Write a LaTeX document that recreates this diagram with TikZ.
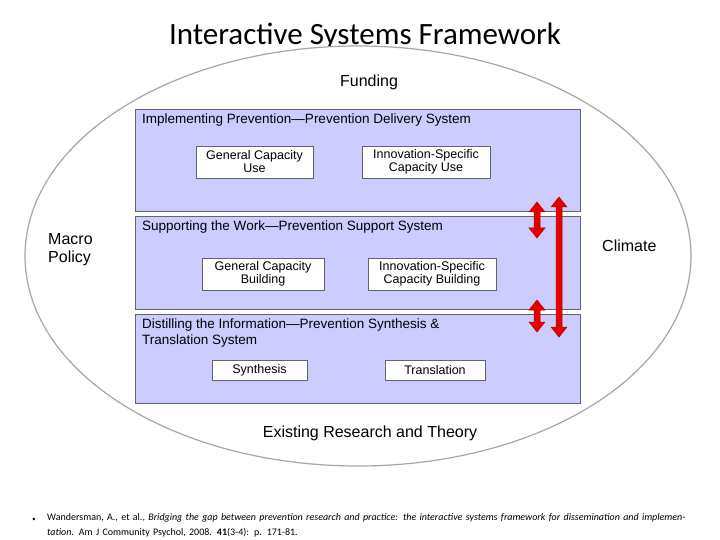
\documentclass[tikz,border=0pt]{standalone}
\usepackage{fontspec}
\usetikzlibrary{calc}
\setmainfont{Liberation Sans}
\newfontfamily\carl{Carlito}
\definecolor{panel}{RGB}{204,204,255}
\definecolor{edge}{RGB}{100,100,110}
\begin{document}
\begin{tikzpicture}[x=1pt,y=-1pt,
  panel/.style={draw=edge,fill=panel,line width=0.8pt},
  box/.style={draw=edge,fill=white,line width=0.8pt,align=center,font=\fontsize{12.5}{13}\selectfont,inner sep=0pt},
  lbl/.style={font=\fontsize{13.5}{16}\selectfont,anchor=west,inner sep=0pt,align=left},
  big/.style={font=\fontsize{16}{18}\selectfont,inner sep=0pt,align=left},
  dbl/.style={draw=red!70!black,fill=red!90!black,line width=0.5pt}]
\useasboundingbox (0,0) rectangle (720,540);
\fill[white] (0,0) rectangle (720,540);
\node[font=\carl\fontsize{31}{34}\selectfont] (title) at (365,36) {Interactive Systems Framework};
\draw[gray!70,line width=1.2pt,fill=white] (358,256) ellipse [x radius=333,y radius=210];
\node[big] (fund) at (369,82) {Funding};
\node[big,anchor=west] (macro) at (48,250) {Macro\\Policy};
\node[big,anchor=west] (clim) at (602,246) {Climate};
\node[big] (exist) at (370,433) {Existing Research and Theory};
\draw[panel] (135,109) rectangle (580,211);
\draw[panel] (135,216) rectangle (580,309);
\draw[panel] (135,314) rectangle (580,403);
\node[lbl] (h1) at (142,120) {Implementing Prevention---Prevention Delivery System};
\node[lbl] (h2) at (142,227) {Supporting the Work---Prevention Support System};
\node[lbl] (h3) at (142,333) {Distilling the Information---Prevention Synthesis \&\\Translation System};
\node[box,minimum width=117,minimum height=32] (gcu) at (254.5,162) {General Capacity\\Use};
\node[box,minimum width=128,minimum height=32] (iscu) at (426,162) {Innovation-Specific\\Capacity Use};
\node[box,minimum width=122,minimum height=32] (gcb) at (263,274) {General Capacity\\Building};
\node[box,minimum width=128,minimum height=32] (iscb) at (432,274) {Innovation-Specific\\Capacity Building};
\node[box,minimum width=95,minimum height=20] (syn) at (259.5,370) {Synthesis};
\node[box,minimum width=100,minimum height=20] (tra) at (435,370) {Translation};
\coordinate (a1t) at (537,202); \coordinate (a1b) at (537,238);
\coordinate (a2t) at (537,300); \coordinate (a2b) at (537,332);
\coordinate (a3t) at (559,197); \coordinate (a3b) at (559,337);
\foreach \t/\b in {a1t/a1b,a2t/a2b,a3t/a3b}{
  \draw[dbl] (\t) -- ++(8,10) -- ++(-5,0) -- ($(\b)+(3,-10)$) -- ++(5,0) -- (\b) -- ++(-8,-10) -- ++(5,0) -- ($(\t)+(-3,10)$) -- ++(-5,0) -- cycle;}
\node[font=\fontsize{9}{9}\selectfont,inner sep=0pt] (bul) at (34,520) {\textbullet};
\node[font=\carl\fontsize{10}{15}\selectfont,anchor=north west,inner sep=0pt,align=left,text width=640] (cite) at (47,513) {Wandersman, A., et al., \textit{Bridging the gap between prevention research and practice: the interactive systems framework for dissemination and implementation}. Am J Community Psychol, 2008. \textbf{41}(3-4): p. 171-81.};
\end{tikzpicture}
\end{document}
